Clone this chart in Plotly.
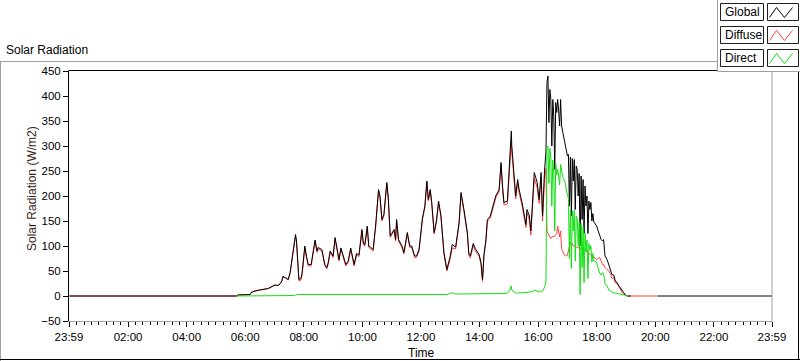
import plotly.graph_objects as go

# ---------------- data ----------------
times = [
    "00:00", "05:42", "05:45", "06:10", "06:12", "06:20", "06:30", "06:40", "06:47", "06:55",
    "07:01", "07:07", "07:12", "07:15", "07:17", "07:22", "07:28", "07:32", "07:36", "07:39",
    "07:43", "07:45", "07:47", "07:50", "07:54", "07:56", "07:58", "08:02", "08:06", "08:09",
    "08:15", "08:19", "08:23", "08:27", "08:29", "08:37", "08:39", "08:43", "08:47", "08:50",
    "08:54", "08:58", "09:00", "09:04", "09:07", "09:12", "09:16", "09:21", "09:26", "09:31",
    "09:36", "09:43", "09:48", "09:53", "09:59", "10:02", "10:05", "10:10", "10:13", "10:16",
    "10:22", "10:27", "10:33", "10:36", "10:40", "10:44", "10:50", "10:53", "10:57", "11:00",
    "11:05", "11:08", "11:10", "11:14", "11:21", "11:25", "11:32", "11:37", "11:41", "11:47",
    "11:51", "11:56", "12:00", "12:03", "12:08", "12:12", "12:15", "12:19", "12:22", "12:27",
    "12:32", "12:36", "12:41", "12:47", "12:53", "13:00", "13:04", "13:11", "13:18", "13:22",
    "13:28", "13:32", "13:35", "13:38", "13:41", "13:47", "13:51", "13:59", "14:03", "14:06",
    "14:09", "14:13", "14:16", "14:22", "14:29", "14:33", "14:40", "14:44", "14:47", "14:50",
    "14:57", "15:01", "15:05", "15:06", "15:11", "15:14", "15:18", "15:21", "15:27", "15:32",
    "15:35", "15:37", "15:42", "15:45", "15:49", "15:52", "15:58", "16:02", "16:06", "16:09",
    "16:13", "16:16", "16:18", "16:20", "16:22", "16:24", "16:26", "16:28", "16:30", "16:32",
    "16:34", "16:36", "16:38", "16:40", "16:42", "16:44", "16:46", "16:48", "16:50", "16:52",
    "16:54", "16:56", "16:58", "17:00", "17:02", "17:04", "17:06", "17:08", "17:10", "17:12",
    "17:14", "17:16", "17:18", "17:20", "17:22", "17:24", "17:26", "17:28", "17:30", "17:32",
    "17:34", "17:36", "17:38", "17:40", "17:42", "17:44", "17:46", "17:48", "17:50", "17:52",
    "17:54", "17:56", "17:58", "18:00", "18:03", "18:06", "18:09", "18:12", "18:14", "18:17",
    "18:21", "18:25", "18:28", "18:31", "18:35", "18:38", "18:42", "18:45", "18:48", "18:52",
    "18:55", "18:59", "19:02", "19:05", "19:10", "19:11", "20:03", "20:04", "23:59",
]

global_wm2 = [
    0, 0, 2, 3, 7, 10, 12, 14, 15, 19,
    22, 21, 25, 30, 39, 37, 33, 47, 77, 93,
    123, 110, 73, 33, 35, 43, 60, 100, 77, 63,
    63, 87, 112, 90, 97, 93, 83, 63, 57, 67,
    90, 83, 80, 117, 100, 73, 96, 78, 63, 70,
    96, 63, 85, 82, 133, 105, 103, 140, 100, 98,
    93, 140, 213, 200, 153, 163, 227, 197, 120, 125,
    133, 113, 153, 113, 100, 87, 127, 100, 100, 80,
    80, 93, 133, 156, 180, 230, 193, 213, 187, 127,
    153, 190, 160, 87, 53, 80, 103, 98, 147, 207,
    173, 147, 127, 85, 80, 105, 95, 83, 67, 33,
    83, 113, 153, 160, 187, 200, 213, 267, 220, 187,
    190, 253, 330, 300, 240, 200, 233, 213, 187, 160,
    143, 173, 160, 130, 187, 247, 227, 193, 247, 160,
    250, 290, 427, 440, 347, 413, 393, 300, 393, 360,
    253, 387, 367, 393, 370, 340, 393, 340, 330, 320,
    313, 300, 290, 280, 283, 180, 278, 160, 275, 230,
    273, 173, 260, 253, 200, 245, 100, 240, 153, 233,
    125, 220, 180, 200, 125, 190, 173, 187, 150, 165,
    148, 145, 143, 140, 130, 123, 113, 110, 113, 80,
    73, 62, 53, 43, 42, 30, 27, 20, 17, 10,
    7, 2, 0, 0, 0, None, None, 0, 0,
]

diffuse_wm2 = [
    0, 0, 2, 3, 7, 10, 12, 14, 15, 19,
    22, 21, 25, 30, 38, 36, 32, 46, 76, 92,
    121, 107, 70, 30, 32, 40, 57, 97, 74, 60,
    60, 84, 109, 87, 94, 90, 80, 61, 54, 64,
    87, 80, 77, 114, 97, 70, 93, 75, 60, 67,
    93, 60, 82, 79, 130, 102, 100, 137, 97, 95,
    90, 137, 210, 197, 150, 160, 224, 194, 117, 122,
    130, 110, 150, 110, 97, 84, 124, 97, 97, 77,
    77, 90, 130, 153, 177, 227, 190, 210, 184, 124,
    150, 187, 157, 84, 50, 75, 96, 94, 143, 203,
    169, 143, 123, 81, 76, 101, 91, 79, 63, 29,
    79, 109, 149, 156, 183, 196, 208, 262, 215, 182,
    184, 243, 310, 288, 232, 194, 227, 207, 181, 154,
    137, 166, 152, 122, 178, 235, 217, 185, 237, 150,
    233, 255, 130, 125, 120, 118, 115, 118, 120, 118,
    120, 122, 125, 140, 130, 118, 130, 95, 90, 85,
    82, 80, 80, 82, 90, 100, 107, 105, 105, 100,
    100, 100, 98, 97, 97, 96, 96, 95, 95, 95,
    95, 93, 90, 88, 87, 85, 83, 82, 80, 80,
    78, 75, 75, 73, 75, 77, 70, 63, 63, 57,
    53, 50, 45, 35, 37, 26, 25, 20, 14, 7,
    5, 2, 0, 0, 0, 0, 0, None, None,
]

direct_wm2 = [
    None, 0, 0, 0, 0, 0, 0, 0, 0, 0,
    0, 0, 0, 0, 1, 1, 1, 1, 1, 1,
    2, 3, 3, 3, 3, 3, 3, 3, 3, 3,
    3, 3, 3, 3, 3, 3, 3, 2, 3, 3,
    3, 3, 3, 3, 3, 3, 3, 3, 3, 3,
    3, 3, 3, 3, 3, 3, 3, 3, 3, 3,
    3, 3, 3, 3, 3, 3, 3, 3, 3, 3,
    3, 3, 3, 3, 3, 3, 3, 3, 3, 3,
    3, 3, 3, 3, 3, 3, 3, 3, 3, 3,
    3, 3, 3, 3, 3, 5, 7, 4, 4, 4,
    4, 4, 4, 4, 4, 4, 4, 4, 4, 4,
    4, 4, 4, 4, 4, 4, 5, 5, 5, 5,
    6, 10, 20, 12, 8, 6, 6, 6, 6, 6,
    6, 7, 8, 8, 9, 12, 10, 8, 10, 10,
    17, 30, 297, 300, 225, 295, 278, 180, 272, 242,
    130, 265, 242, 253, 240, 222, 263, 245, 240, 235,
    230, 225, 210, 200, 195, 75, 172, 55, 170, 130,
    172, 70, 160, 155, 100, 148, 3, 145, 57, 138,
    27, 125, 88, 112, 35, 105, 92, 100, 68, 85,
    70, 70, 68, 67, 55, 46, 42, 47, 45, 25,
    20, 12, 10, 8, 6, 6, 5, 5, 4, 3,
    2, 1, 0, 0, None, None, None, None, None,
]

series_names = ["Global", "Diffuse", "Direct"]
series_colors = {"Global": "#000000", "Diffuse": "#ff4040", "Direct": "#12e012"}

x_tick_minutes = [-1, 120, 240, 360, 480, 600, 720, 840, 960, 1080, 1200, 1320, 1439]
x_tick_labels = ["23:59", "02:00", "04:00", "06:00", "08:00", "10:00", "12:00",
                 "14:00", "16:00", "18:00", "20:00", "22:00", "23:59"]
y_ticks = [-50, 0, 50, 100, 150, 200, 250, 300, 350, 400, 450]

chart_title = "Solar Radiation"
x_title = "Time"
y_title = "Solar Radiation (W/m2)"

# ---------------- figure ----------------
def to_min(s):
    h, m = s.split(":")
    return int(h) * 60 + int(m)

minutes = [to_min(t) for t in times]
values = {"Global": global_wm2, "Diffuse": diffuse_wm2, "Direct": direct_wm2}

FONT = "Liberation Sans, Arial, sans-serif"
W, H = 800, 361
L, R, T, B = 69, 28, 71, 40
PW, PH = W - L - R, H - T - B


def px(xp):
    return (xp - L) / PW


def py(yp):
    return (H - B - yp) / PH


fig = go.Figure()
for name in ["Diffuse", "Global", "Direct"]:
    fig.add_trace(go.Scatter(
        x=minutes, y=values[name], mode="lines", name=name,
        line=dict(color=series_colors[name], width=1),
        connectgaps=False, showlegend=False, hoverinfo="skip",
    ))

shapes = []
GRAY = "#a0a0a0"
# plot frame: top black, right gray
shapes.append(dict(type="line", xref="paper", yref="paper", x0=px(68.5), x1=1, y0=py(70.5), y1=py(70.5),
                   line=dict(color="#000000", width=1)))
shapes.append(dict(type="line", xref="paper", yref="paper", x0=1, x1=1, y0=py(322), y1=py(70.5),
                   line=dict(color=GRAY, width=1)))
# outer panel frame
shapes.append(dict(type="line", xref="paper", yref="paper", x0=px(0), x1=px(717.5), y0=py(61.5), y1=py(61.5),
                   line=dict(color=GRAY, width=1)))
shapes.append(dict(type="line", xref="paper", yref="paper", x0=px(0.5), x1=px(0.5), y0=py(61.5), y1=py(361),
                   line=dict(color=GRAY, width=1)))
shapes.append(dict(type="line", xref="paper", yref="paper", x0=px(0), x1=px(800), y0=py(359.5), y1=py(359.5),
                   line=dict(color="#000000", width=1)))
shapes.append(dict(type="line", xref="paper", yref="paper", x0=px(798.5), x1=px(798.5), y0=py(72), y1=py(360),
                   line=dict(color="#000000", width=1)))
# legend panel
shapes.append(dict(type="rect", xref="paper", yref="paper", x0=px(717.5), x1=px(803), y0=py(71.5), y1=py(-3),
                   fillcolor="#ffffff", line=dict(color=GRAY, width=1)))

annotations = []
for i, name in enumerate(series_names):
    top = 3.5 + 23 * i
    shapes.append(dict(type="rect", xref="paper", yref="paper", x0=px(720.5), x1=px(763.5),
                       y0=py(top + 17), y1=py(top), fillcolor="#ffffff",
                       line=dict(color="#202020", width=1)))
    shapes.append(dict(type="rect", xref="paper", yref="paper", x0=px(767.5), x1=px(798.5),
                       y0=py(top + 17), y1=py(top), fillcolor="#ffffff",
                       line=dict(color="#202020", width=1)))
    pts = [(769.5, top + 14), (776.5, top + 4), (784.5, top + 14), (792.5, top + 4)]
    path = "M " + " L ".join(f"{px(a):.5f},{py(b):.5f}" for a, b in pts)
    shapes.append(dict(type="path", xref="paper", yref="paper", path=path,
                       line=dict(color=series_colors[name], width=1)))
    annotations.append(dict(text=name, xref="paper", yref="paper", x=px(722.5), y=py(top + 8.5),
                            xanchor="left", yanchor="middle", showarrow=False,
                            font=dict(family=FONT, size=12, color="#000000")))

annotations.append(dict(text=chart_title, xref="paper", yref="paper", x=px(4), y=py(50),
                        xanchor="left", yanchor="middle", showarrow=False,
                        font=dict(family=FONT, size=12, color="#000000")))
annotations.append(dict(text=x_title, xref="paper", yref="paper", x=px(421), y=py(353),
                        xanchor="center", yanchor="middle", showarrow=False,
                        font=dict(family=FONT, size=12, color="#000000")))
annotations.append(dict(text=y_title, xref="paper", yref="paper", x=px(32), y=py(189),
                        xanchor="center", yanchor="middle", showarrow=False, textangle=-90,
                        font=dict(family=FONT, size=12, color="#3a2418")))

fig.update_layout(
    width=W, height=H,
    margin=dict(l=L, r=R, t=T, b=B, pad=0),
    paper_bgcolor="#ffffff", plot_bgcolor="#ffffff",
    showlegend=False, hovermode=False,
    shapes=shapes, annotations=annotations,
    xaxis=dict(
        range=[-1, 1439], tickmode="array", tickvals=x_tick_minutes, ticktext=x_tick_labels,
        ticks="outside", ticklen=5, tickwidth=1, tickcolor="#000000",
        showline=True, linecolor=GRAY, linewidth=1,
        showgrid=False, zeroline=False, fixedrange=True,
        tickfont=dict(family=FONT, size=11.5, color="#000000"),
        minor=dict(tickmode="linear", tick0=0, dtick=15, ticks="outside", ticklen=3,
                   tickwidth=1, tickcolor="#000000", showgrid=False),
    ),
    yaxis=dict(
        range=[-50, 450], tickmode="array", tickvals=y_ticks,
        ticks="outside", ticklen=5, tickwidth=1, tickcolor="#000000",
        showline=True, linecolor="#000000", linewidth=1,
        showgrid=False, zeroline=False, fixedrange=True,
        tickfont=dict(family=FONT, size=11.5, color="#000000"),
    ),
)

fig.write_html(
    "out.html",
    config={"displayModeBar": False, "staticPlot": True},
    post_script="document.body.style.margin='0';document.body.style.padding='0';"
                "document.body.style.overflow='hidden';",
)
